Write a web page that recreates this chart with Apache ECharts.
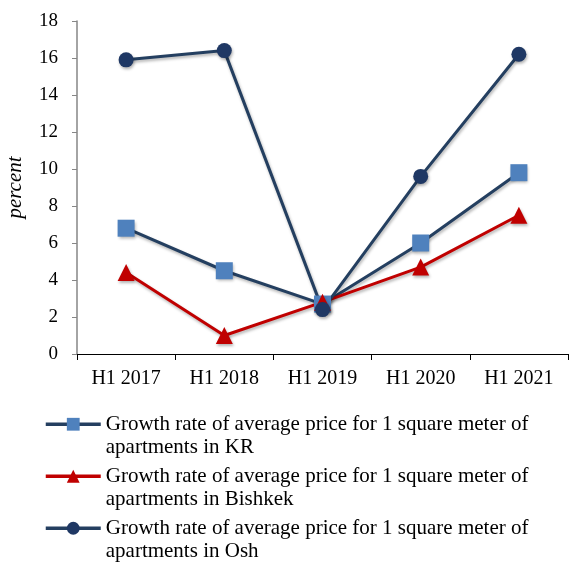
<!DOCTYPE html>
<html>
<head>
<meta charset="utf-8">
<script src="https://cdn.jsdelivr.net/npm/echarts@6/dist/echarts.min.js"></script>
<style>
  html, body { margin: 0; padding: 0; background: #fff; }
  #chart { width: 569px; height: 565px; }
</style>
</head>
<body>
<div id="chart"></div>
<script>
// categories and series
const periods = ['H1 2017', 'H1 2018', 'H1 2019', 'H1 2020', 'H1 2021'];
const krGrowth = [6.8, 4.5, 2.7, 6.0, 9.8];
const bishkekGrowth = [4.4, 1.0, 2.8, 4.7, 7.5];
const oshGrowth = [15.9, 16.4, 2.4, 9.6, 16.2];
const yTicks = { min: 0, max: 18, step: 2 };

const names = [
    'Growth rate of average price for 1 square meter of apartments in KR',
    'Growth rate of average price for 1 square meter of apartments in Bishkek',
    'Growth rate of average price for 1 square meter of apartments in Osh'
];

const font = 'Liberation Serif';
const navy = '#243F60';
const shadow = { shadowColor: 'rgba(0,0,0,0.3)', shadowBlur: 3, shadowOffsetX: 1, shadowOffsetY: 2 };

let myChart = echarts.init(document.getElementById('chart'), null, { renderer: 'canvas' });

let option = {
    backgroundColor: '#fff',
    animation: false,
    textStyle: { fontFamily: font },
    grid: { left: 77, right: 1, top: 21, bottom: 211, outerBoundsMode: 'none', containLabel: false },
    legend: {
        orient: 'vertical',
        left: 44,
        top: 389,
        height: 200,
        padding: 0,
        itemGap: -18.5,
        itemWidth: 55,
        itemHeight: 16,
        lineStyle: { width: 3.5 },
        itemStyle: { shadowBlur: 0, shadowOffsetX: 0, shadowOffsetY: 0 },
        // empty first line so the icon lines up with the first text line
        formatter: function (name) {
            return '\n' + name.replace(' apartments', '\napartments');
        },
        textStyle: {
            fontFamily: font,
            fontSize: 21,
            color: '#000',
            lineHeight: 23.5
        },
        data: names
    },
    xAxis: {
        type: 'category',
        data: periods,
        boundaryGap: true,
        axisLine: { lineStyle: { color: '#000', width: 1 } },
        axisTick: { show: true, length: 6, lineStyle: { color: '#000' } },
        axisLabel: { fontFamily: font, fontSize: 20, color: '#000', margin: 15 }
    },
    yAxis: {
        type: 'value',
        min: yTicks.min,
        max: yTicks.max,
        interval: yTicks.step,
        name: 'percent',
        nameLocation: 'middle',
        nameRotate: 90,
        nameGap: 51,
        nameTextStyle: { fontFamily: font, fontSize: 21, fontStyle: 'italic', color: '#000' },
        splitLine: { show: false },
        axisLine: { show: true, lineStyle: { color: '#868686', width: 1.5 } },
        axisTick: { show: true, length: 5, lineStyle: { color: '#868686' } },
        axisLabel: { fontFamily: font, fontSize: 19, color: '#000', margin: 19 }
    },
    series: [
        {
            name: names[0],
            type: 'line',
            data: krGrowth,
            symbol: 'rect',
            symbolSize: 17,
            lineStyle: Object.assign({ color: navy, width: 3 }, shadow),
            itemStyle: Object.assign({ color: '#4F81BD' }, shadow)
        },
        {
            name: names[1],
            type: 'line',
            data: bishkekGrowth,
            symbol: 'triangle',
            symbolSize: 17,
            lineStyle: Object.assign({ color: '#C00000', width: 3 }, shadow),
            itemStyle: Object.assign({ color: '#C00000' }, shadow)
        },
        {
            name: names[2],
            type: 'line',
            data: oshGrowth,
            symbol: 'circle',
            symbolSize: 15,
            lineStyle: Object.assign({ color: navy, width: 3 }, shadow),
            itemStyle: Object.assign({ color: '#1F3864' }, shadow)
        }
    ]
};
myChart.setOption(option, true);
</script>
</body>
</html>
